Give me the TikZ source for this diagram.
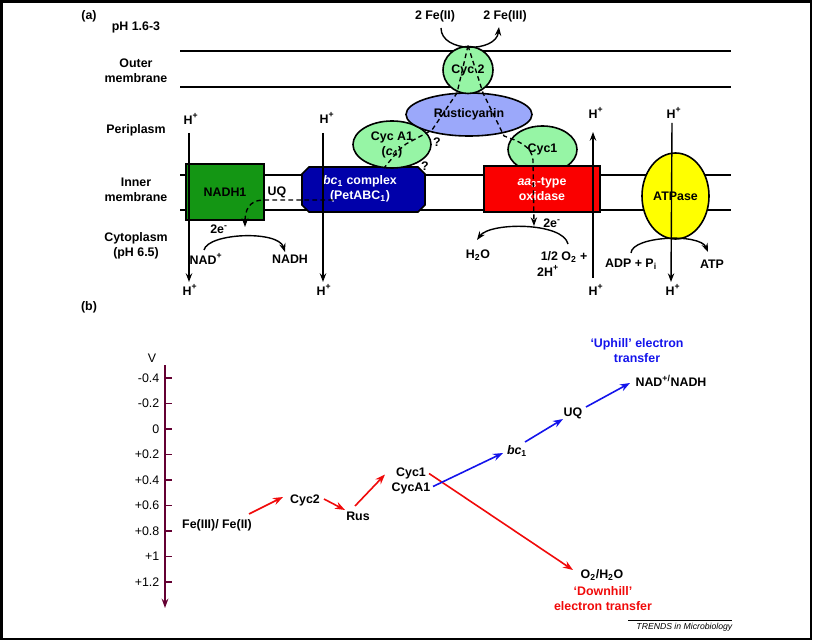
\documentclass[tikz,border=0pt]{standalone}
\usepackage{fontspec}
\setmainfont{Liberation Sans}
\usetikzlibrary{shapes.geometric,arrows.meta,calc}
\definecolor{mint}{RGB}{150,245,165}
\definecolor{rusti}{RGB}{155,168,250}
\definecolor{nadhgreen}{RGB}{20,150,20}
\definecolor{bcblue}{RGB}{0,0,170}
\definecolor{oxred}{RGB}{250,0,0}
\definecolor{atpyellow}{RGB}{255,255,0}
\definecolor{axisc}{RGB}{100,0,50}
\definecolor{upblue}{RGB}{20,20,235}
\definecolor{downred}{RGB}{240,10,10}
\begin{document}
\begin{tikzpicture}[x=0.75pt,y=-0.75pt,line width=1.05pt,
  every node/.style={font=\fontsize{9.3}{11.25}\selectfont\bfseries,inner sep=0pt,align=center},
  regfont/.style={font=\fontsize{9.3}{11.25}\selectfont},
  blkarr/.style={-{Stealth[length=6.5pt,width=4.8pt]},line width=1.05pt},
  dasharr/.style={dash pattern=on 3.5pt off 2.5pt,line width=1pt},
  colarr/.style={-{Stealth[length=7.5pt,width=5.5pt]},line width=1.2pt},
  membr/.style={line width=1.3pt},
  cycell/.style={ellipse,draw,fill=mint,line width=1.2pt},
  boxshape/.style={draw,line width=1.2pt}]
\useasboundingbox (0,0) rectangle (813,641);
% frame
\draw[line width=1.6pt] (1.5,1.5) rectangle (811,639);

% ---------------- (a) ----------------
\node (lbla) at (89,16) {(a)};
\node (ph) at (136,27) {pH 1.6-3};
\node (outer) at (136,71) {Outer\\membrane};
\node (peri) at (136,130) {Periplasm};
\node (inner) at (136,189.5) {Inner\\membrane};
\node (cyto) at (136,246) {Cytoplasm\\(pH 6.5)};

% membranes
\draw[membr] (180,51) -- (731,51);
\draw[membr] (180,87) -- (731,87);
\draw[membr] (180,175) -- (731,175);
\draw[membr] (180,210) -- (731,210);

% membrane proteins
\node[boxshape,fill=nadhgreen,minimum width=58.5pt,minimum height=42pt] (nadh1) at (225,192) {NADH1};
\draw[line width=1.2pt,fill=bcblue] (302,174) -- (309,167) -- (418,167) -- (425,174) -- (425,205) -- (418,212) -- (309,212) -- (302,205) -- cycle;
\node[text=white] (bc1) at (360,189) {\textit{bc}\textsubscript{1} complex\\(PetABC\textsubscript{1})};
\node[cycell,minimum width=58.5pt,minimum height=35.25pt] (cyca1) at (392,144.5) {Cyc A1\\(\textit{c}\textsubscript{4})};
\node[cycell,minimum width=51.75pt,minimum height=35.25pt] (cyc1) at (542.5,149.5) {Cyc1};
\node[boxshape,fill=oxred,text=white,minimum width=87pt,minimum height=34.5pt] (oxid) at (542,189) {\textit{aa}\textsubscript{3}-type\\oxidase};
\node[ellipse,draw,fill=rusti,line width=1.2pt,minimum width=94.5pt,minimum height=32.25pt] (rus) at (469,114.5) {Rusticyanin};
\node[cycell,minimum width=37.5pt,minimum height=35.25pt] (cyc2) at (468,70) {Cyc 2};
\node[ellipse,draw,fill=atpyellow,line width=1.2pt,minimum width=50.25pt,minimum height=64.5pt] (atp) at (675.5,196) {ATPase};

% labels
\node (fe2) at (435,16) {2 Fe(II)};
\node (fe3) at (505,16) {2 Fe(III)};
\node (h1t) at (191,119) {H\textsuperscript{+}};
\node (h1b) at (190,290) {H\textsuperscript{+}};
\node (h2t) at (327,118) {H\textsuperscript{+}};
\node (h2b) at (324,290) {H\textsuperscript{+}};
\node (h3t) at (596,113) {H\textsuperscript{+}};
\node (h3b) at (596,290) {H\textsuperscript{+}};
\node (h4t) at (674,113) {H\textsuperscript{+}};
\node (h4b) at (673,290) {H\textsuperscript{+}};
\node (uq) at (277,192) {UQ};
\node (e2l) at (219,229) {2e\textsuperscript{-}};
\node (e2r) at (552,223) {2e\textsuperscript{-}};
\node (nadp) at (206,259) {NAD\textsuperscript{+}};
\node (nadh) at (290,259) {NADH};
\node (h2o) at (478,255) {H\textsubscript{2}O};
\node (o2l) at (564,257) {1/2 O\textsubscript{2} +};
\node (twoh) at (548,271) {2H\textsuperscript{+}};
\node (adp) at (631,264) {ADP + P\textsubscript{i}};
\node (atpl) at (712,264) {ATP};
\node (q1) at (437,142) {?};
\node (q2) at (425,166) {?};

% proton arrows
\draw[blkarr] ([shift={(-2,14)}]h1t.center) -- ([shift={(-1,-8)}]h1b.center);
\draw[blkarr] ([shift={(-4,15)}]h2t.center) -- ([shift={(-1,-8)}]h2b.center);
\draw[blkarr] ([shift={(-3,-12)}]h3b.center) -- ([shift={(-3,19)}]h3t.center);
\draw[blkarr] ([shift={(-2,10)}]h4t.center) -- ([shift={(-2,-8)}]h4b.center);

% Fe oxidation
\draw[blkarr] ([shift={(6,12)}]fe2.center) .. controls (441,53) and (496,53) .. ([shift={(-6,11)}]fe3.center);

% electron paths (dashed)
\coordinate (bctop) at (384,168);
\draw[dasharr] (cyc2.north) -- (457,93) -- (432,130) -- (406,144) -- (399,150) -- (bctop);
\draw[dasharr,-{Stealth[length=6.5pt,width=4.8pt]}] (cyc2.north) -- (483,93) -- (504,136) .. controls (518,141) and (532,146) .. (533,160) -- ([shift={(-18,3)}]e2r.center);
\draw[dasharr,-{Stealth[length=6.5pt,width=4.8pt]}] ([shift={(-27,11)}]bc1.center) -- (262,200) .. controls (249,201) and (245,210) .. ([shift={(26,-2)}]e2l.center);

% reactions
\draw[blkarr] ([shift={(-2,-9)}]nadp.center) .. controls (208,233) and (278,230) .. ([shift={(-5,-7)}]nadh.center);
\draw[blkarr] ([shift={(4,-13)}]o2l.center) .. controls (563,222) and (490,222) .. ([shift={(-1,-15)}]h2o.center);
\draw[blkarr] ([shift={(0,-11)}]adp.center) .. controls (632,236) and (700,233) .. ([shift={(-4,-12)}]atpl.center);

% ---------------- (b) ----------------
\node (lblb) at (89,307) {(b)};
\node[regfont] (vlab) at (152,358) {V};
\coordinate (axtop) at (165,365);
\coordinate (axbot) at (165,608);
\draw[axisc,line width=1.2pt,-{Stealth[length=7pt,width=5pt]}] (axtop) -- (axbot);
\foreach \i/\t in {0/-0.4,1/-0.2,2/0,3/+0.2,4/+0.4,5/+0.6,6/+0.8,7/+1,8/+1.2}{
  \draw[axisc,line width=1.2pt] (165,378+25.5*\i) -- (172,378+25.5*\i);
  \node[regfont,anchor=east] (tk\i) at (160,378+25.5*\i) {\t};
}

\node (feb) at (217,525) {Fe(III)/ Fe(II)};
\node (cyc2b) at (305,500) {Cyc2};
\node (rusb) at (358,516) {Rus};
\node (cyc1b) at (411,480.5) {Cyc1\\CycA1};
\node (bc1b) at (517,451) {\textit{bc}\textsubscript{1}};
\node (uqb) at (573,413) {UQ};
\node (nadb) at (671,381) {NAD\textsuperscript{+/}NADH};
\node (o2b) at (602,575) {O\textsubscript{2}/H\textsubscript{2}O};
\node[text=upblue] (uphill) at (637,350.5) {‘Uphill’ electron\\transfer};
\node[text=downred] (downhill) at (603,598.5) {‘Downhill’\\electron transfer};

\draw[colarr,downred] ([shift={(32,-11)}]feb.center) -- ([shift={(-22,-3)}]cyc2b.center);
\draw[colarr,downred] ([shift={(19,-1)}]cyc2b.center) -- ([shift={(-13,-6)}]rusb.center);
\draw[colarr,downred] ([shift={(-3,-10)}]rusb.center) -- ([shift={(-26,-6)}]cyc1b.center);
\draw[colarr,downred] ([shift={(18,-7)}]cyc1b.center) -- ([shift={(-29,-5)}]o2b.center);
\draw[colarr,upblue] ([shift={(22,6)}]cyc1b.center) -- ([shift={(-14,2)}]bc1b.center);
\draw[colarr,upblue] ([shift={(8,-9)}]bc1b.center) -- ([shift={(-10,6)}]uqb.center);
\draw[colarr,upblue] ([shift={(13,-6)}]uqb.center) -- ([shift={(-41,2)}]nadb.center);

\node[anchor=east,font=\fontsize{6.5}{8}\selectfont\itshape] (trends) at (733,627) {TRENDS in Microbiology};
\draw[line width=0.6pt] (628,620) -- (732,620);
\end{tikzpicture}
\end{document}
